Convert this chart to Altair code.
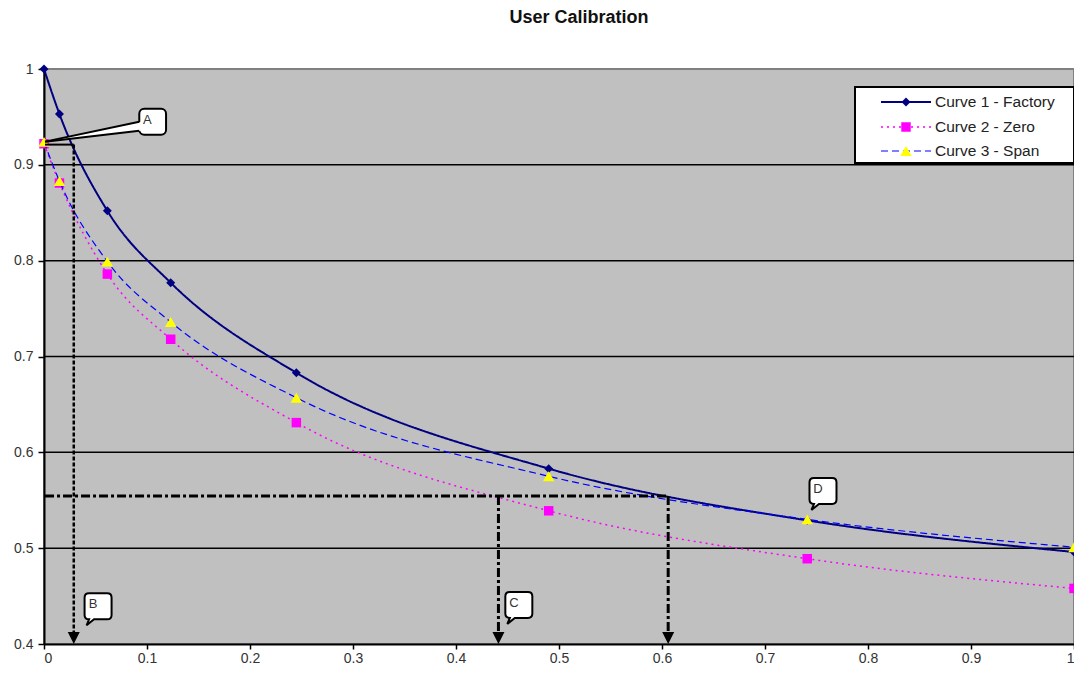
import altair as alt
import pandas as pd

# ---------------- data ----------------
x_vals = [0.0, 0.015, 0.0615, 0.123, 0.245, 0.49, 0.741, 1.0]
factory = [1.0, 0.953, 0.852, 0.777, 0.683, 0.583, 0.529, 0.496]
zero = [0.922, 0.881, 0.786, 0.718, 0.631, 0.539, 0.489, 0.458]
span = [0.924, 0.883, 0.799, 0.736, 0.657, 0.575, 0.530, 0.501]
series_names = ["Curve 1 - Factory", "Curve 2 - Zero", "Curve 3 - Span"]
chart_title = "User Calibration"

x_ticks = [0, 0.1, 0.2, 0.3, 0.4, 0.5, 0.6, 0.7, 0.8, 0.9, 1]
y_ticks = [0.4, 0.5, 0.6, 0.7, 0.8, 0.9, 1]
grid_y = [0.5, 0.6, 0.7, 0.8, 0.9]

# reference lines (B: factory reading of zero point; C: span comparison)
b_x = 0.0289
b_y = 0.9211
c_y = 0.5545
c_xs = [0.4412, 0.606]

# callout centres (data coords)
callout_labels = ["B", "C", "D"]
callout_x = [0.0525, 0.461, 0.7563]
callout_y = [0.4393, 0.4408, 0.5597]
# callout A (box + long pointer)
a_box = dict(x1=0.0925, x2=0.1185, y1=0.9585, y2=0.9315)
a_text = dict(x=0.1002, y=0.9465, t="A")
a_tip = (0.001, 0.9242)
a_base = (0.0925, 0.9450, 0.9356)

FONT = "Liberation Sans"

XS = alt.Scale(domain=[0, 1], nice=False, zero=False)
YS = alt.Scale(domain=[0.4, 1], nice=False, zero=False)
XA = alt.Axis(values=x_ticks, format="~g", title=None, grid=False,
              domainColor="black", domainWidth=2, tickColor="black",
              tickWidth=1.5, tickSize=5, labelFont=FONT, labelFontSize=14,
              labelColor="#333333", labelPadding=2)
YA = alt.Axis(values=y_ticks, format="~g", title=None, grid=False,
              domainColor="black", domainWidth=2, tickColor="black",
              tickWidth=1.5, tickSize=6, labelFont=FONT, labelFontSize=14,
              labelColor="#333333", labelPadding=5)


def X(f):
    return alt.X(f, type="quantitative", scale=XS, axis=XA)


def Y(f):
    return alt.Y(f, type="quantitative", scale=YS, axis=YA)


layers = []

# grid lines
grid_df = pd.DataFrame({"y": grid_y})
layers.append(alt.Chart(grid_df).mark_rule(color="black", strokeWidth=1.5).encode(y=Y("y")))

# curves
styles = [
    dict(color="#000080", width=2, dash=[1, 0], shape="diamond", size=80, fill="#000080"),
    dict(color="#FF00FF", width=1.5, dash=[2, 4], shape="square", size=90, fill="#FF00FF"),
    dict(color="#0000FF", width=1.2, dash=[7, 4], shape="triangle-up", size=130, fill="#FFFF00"),
]
for vals, st in zip([factory, zero, span], styles):
    df = pd.DataFrame({"x": x_vals, "y": vals})
    layers.append(alt.Chart(df).mark_line(color=st["color"], strokeWidth=st["width"],
                                          strokeDash=st["dash"], interpolate="monotone")
                  .encode(x=X("x"), y=Y("y")))
    layers.append(alt.Chart(df).mark_point(shape=st["shape"], size=st["size"], filled=True,
                                           color=st["fill"], opacity=1)
                  .encode(x=X("x"), y=Y("y")))

# reference line B
bh = pd.DataFrame({"x": [0.001], "x2": [b_x], "y": [b_y]})
layers.append(alt.Chart(bh).mark_rule(color="black", strokeWidth=2)
              .encode(x=X("x"), x2=alt.X2("x2"), y=Y("y")))
bv = pd.DataFrame({"x": [b_x], "y": [b_y], "y2": [0.41]})
layers.append(alt.Chart(bv).mark_rule(color="black", strokeWidth=2.5, strokeDash=[4, 2])
              .encode(x=X("x"), y=Y("y"), y2=alt.Y2("y2")))

# reference lines C
ch = pd.DataFrame({"x": [0.001], "x2": [c_xs[1]], "y": [c_y]})
layers.append(alt.Chart(ch).mark_rule(color="black", strokeWidth=3, strokeDash=[9, 3, 3, 3])
              .encode(x=X("x"), x2=alt.X2("x2"), y=Y("y")))
cv = pd.DataFrame({"x": c_xs, "y": [c_y] * 2, "y2": [0.41] * 2})
layers.append(alt.Chart(cv).mark_rule(color="black", strokeWidth=3, strokeDash=[9, 3, 3, 3])
              .encode(x=X("x"), y=Y("y"), y2=alt.Y2("y2")))

# arrow heads
arrow_df = pd.DataFrame({"x": [b_x] + c_xs, "y": [0.4] * 3})
layers.append(alt.Chart(arrow_df).mark_point(shape="M -1 -2 L 1 -2 L 0 0 Z", size=144,
                                             filled=True, color="black", opacity=1)
              .encode(x=X("x"), y=Y("y")))

# callout A
abox = pd.DataFrame([a_box])
layers.append(alt.Chart(abox).mark_rect(fill="white", stroke="black", strokeWidth=2, cornerRadius=5)
              .encode(x=X("x1"), x2=alt.X2("x2"), y=Y("y1"), y2=alt.Y2("y2")))
wedge = pd.DataFrame({"x": [a_tip[0], a_base[0] + 0.002],
                      "y": [a_tip[1], a_base[1]], "y2": [a_tip[1], a_base[2]]})
layers.append(alt.Chart(wedge).mark_area(color="white", opacity=1)
              .encode(x=X("x"), y=Y("y"), y2=alt.Y2("y2")))
wl = pd.DataFrame({"x": [a_tip[0], a_tip[0]], "x2": [a_base[0]] * 2,
                   "y": [a_tip[1]] * 2, "y2": [a_base[1], a_base[2]]})
layers.append(alt.Chart(wl).mark_rule(color="black", strokeWidth=2)
              .encode(x=X("x"), x2=alt.X2("x2"), y=Y("y"), y2=alt.Y2("y2")))
atext = pd.DataFrame([a_text])
layers.append(alt.Chart(atext).mark_text(font=FONT, fontSize=13, color="#333333")
              .encode(x=X("x"), y=Y("y"), text="t:N"))

# callouts B, C, D
callout_path = ("M -0.455 -0.65 L 0.455 -0.65 Q 0.675 -0.65 0.675 -0.43 L 0.675 0.43 "
                "Q 0.675 0.65 0.455 0.65 L -0.2 0.65 L -0.575 0.95 L -0.45 0.65 "
                "Q -0.675 0.65 -0.675 0.43 L -0.675 -0.43 Q -0.675 -0.65 -0.455 -0.65 Z")
cdf = pd.DataFrame({"x": callout_x, "y": callout_y, "t": callout_labels})
layers.append(alt.Chart(cdf).mark_point(shape=callout_path, size=1600, filled=True, fill="white",
                                        stroke="black", strokeWidth=2, opacity=1)
              .encode(x=X("x"), y=Y("y")))
layers.append(alt.Chart(cdf).mark_text(font=FONT, fontSize=13, color="#333333", dx=-5, dy=-2)
              .encode(x=X("x"), y=Y("y"), text="t:N"))

# legend (manual)
one = pd.DataFrame({"k": [0]})
layers.append(alt.Chart(one).mark_rect(fill="white", stroke="black", strokeWidth=2)
              .encode(x=alt.value(811), x2=alt.value(1030), y=alt.value(18), y2=alt.value(94)))
row_y = [33, 58, 82]
for name, st, ry in zip(series_names, styles, row_y):
    layers.append(alt.Chart(one).mark_rule(color=st["color"], strokeWidth=st["width"], strokeDash=st["dash"])
                  .encode(x=alt.value(837), x2=alt.value(887), y=alt.value(ry)))
    layers.append(alt.Chart(one).mark_point(shape=st["shape"], size=st["size"], filled=True,
                                            color=st["fill"], opacity=1)
                  .encode(x=alt.value(862), y=alt.value(ry)))
    layers.append(alt.Chart(one).mark_text(font=FONT, fontSize=15.5, color="#222222", align="left",
                                           baseline="middle")
                  .encode(x=alt.value(891), y=alt.value(ry), text=alt.value(name)))

# chart title as text mark above the plot area (kept inside the svg)
layers.append(alt.Chart(one).mark_text(font=FONT, fontSize=18, fontWeight="bold", color="#111111",
                                       align="center", baseline="top")
              .encode(x=alt.value(535), y=alt.value(-60), text=alt.value(chart_title)))

chart = alt.layer(*layers).properties(
    width=1030, height=575,
    autosize=alt.AutoSizeParams(type="none"),
    padding={"left": 36, "top": 61, "right": 0, "bottom": 25},
).configure_view(fill="#C0C0C0", stroke="#808080", strokeWidth=2)

chart.save("out.html", embed_options={"renderer": "svg", "actions": False})
